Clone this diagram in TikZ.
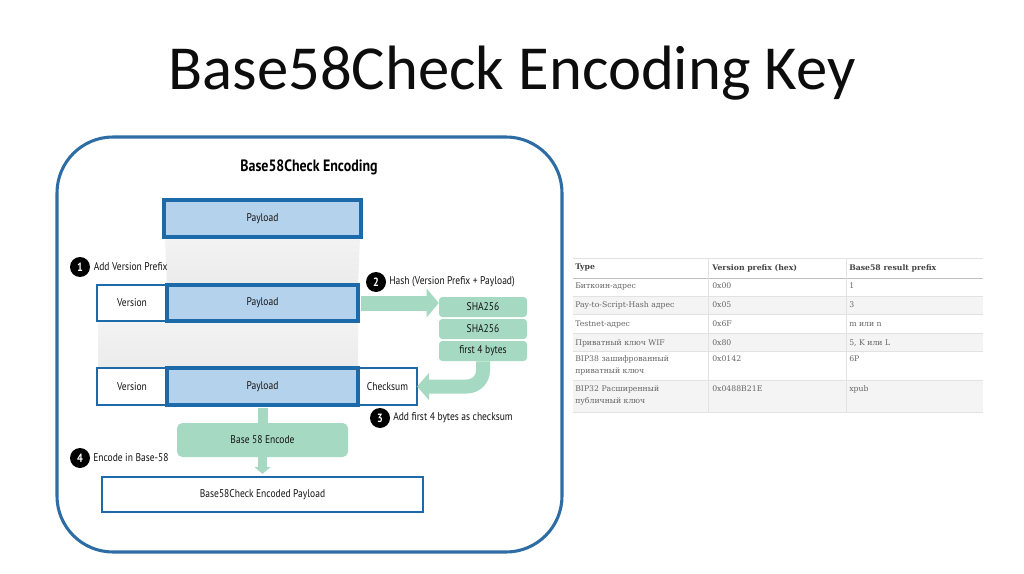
\documentclass[tikz,border=0pt]{standalone}
\usepackage{fontspec}
\setmainfont{Carlito}
\newfontfamily\cond[FakeStretch=0.85]{PT Sans}
\newfontfamily\tabfont{DejaVu Serif}
\usetikzlibrary{arrows.meta}
\definecolor{frameblue}{HTML}{2E6DA4}
\definecolor{dblue}{HTML}{1D6AAB}
\definecolor{lblue}{HTML}{B5D2EC}
\definecolor{mgreen}{HTML}{A6D9C2}
\definecolor{gshade}{HTML}{EBEBEB}
\definecolor{tabtext}{HTML}{666666}
\definecolor{tabhead}{HTML}{444444}
\definecolor{tabline}{HTML}{E2E2E2}
\definecolor{tabfill}{HTML}{F4F4F4}
\tikzset{
  bx/.style 2 args={minimum width=#1*0.75pt, minimum height=#2*0.75pt, inner sep=0pt},
  dfont/.style={font=\cond\fontsize{8.4}{10}\selectfont, text=black!92},
  pay/.style={draw=dblue, line width=2.6pt, fill=lblue, dfont},
  wbox/.style={draw=dblue, line width=2.1pt, fill=white, dfont},
  gbox/.style={fill=mgreen, rounded corners=2.5pt, dfont},
  numc/.style={circle, fill=black, text=white, inner sep=0pt, minimum size=15pt, font=\cond\bfseries\fontsize{9}{10}\selectfont},
  lab/.style={anchor=west, dfont, inner sep=0pt},
  tcell/.style={anchor=west, inner sep=0pt, align=left, text=tabtext, font=\tabfont\fontsize{5.8}{9.6}\selectfont},
  thead/.style={anchor=west, inner sep=0pt, text=tabhead, font=\tabfont\bfseries\fontsize{5.8}{9.6}\selectfont},
}
\begin{document}
\begin{tikzpicture}[x=0.75pt,y=-0.75pt]
\useasboundingbox (0,0) rectangle (1024,574);
\fill[white] (0,0) rectangle (1024,574);

% slide title
\node[text=black!95, inner sep=0pt] (title) at (512,73) {\fontsize{47}{52}\selectfont Base58Check Encoding Key};

% outer frame
\draw[frameblue, line width=2.3pt, rounded corners=42pt] (57,137) rectangle (562,552);

\node[inner sep=0pt, font=\cond\bfseries\fontsize{12.3}{14}\selectfont] (dtitle) at (309,167) {Base58Check Encoding};

% gray transition areas
\shade[top color=gshade!60, bottom color=gshade] (165,237) -- (360,237) -- (358,285) -- (167,285) -- cycle;
\shade[top color=gshade!60, bottom color=gshade] (98,321) -- (358,321) -- (358,368) -- (98,368) -- cycle;

% boxes
\node[pay, bx={197}{37}] (p1) at (262.5,218.5) {Payload};
\node[wbox, bx={70}{36}] (v2) at (132,303) {Version};
\node[pay, bx={191}{36}] (p2) at (262.5,303) {Payload};
\node[wbox, bx={70}{37}] (v3) at (132,386.5) {Version};
\node[wbox, bx={59}{37}] (c3) at (387.5,386.5) {Checksum};
\node[pay, bx={191}{37}] (p3) at (262.5,386.5) {Payload};

\node[gbox, bx={88}{20}] (s1) at (483,307) {SHA256};
\node[gbox, bx={88}{20}] (s2) at (483,329) {SHA256};
\node[gbox, bx={88}{20}] (s3) at (483,351) {first 4 bytes};

\node[gbox, bx={171}{34}, rounded corners=4pt] (enc) at (262.5,440) {Base 58 Encode};
\node[wbox, bx={321}{35}] (fin) at (262.5,494.5) {Base58Check Encoded Payload};

% arrows
\draw[mgreen, line width=11.25pt, -{Triangle[width=21pt,length=9pt]}]
  ([xshift=1.2pt]p2.east) -- (p2.east -| s1.west);
\draw[mgreen, line width=10.5pt, rounded corners=12pt, -{Triangle[width=20pt,length=9pt]}]
  (s3.south) |- ([xshift=-1pt]c3.east);
\draw[mgreen, line width=7.5pt] ([yshift=-1.3pt]p3.south) -- (enc.north);
\draw[mgreen, line width=6.5pt, shorten >=2.5pt, -{Triangle[width=11.5pt,length=5pt]}]
  (enc.south) -- ([yshift=-1.2pt]fin.north);

% step labels
\node[numc] (n1) at (80,267) {1};
\node[lab] (l1) at (93.5,267) {Add Version Prefix};
\node[numc] (n2) at (376,282) {2};
\node[lab] (l2) at (389,282) {Hash (Version Prefix + Payload)};
\node[numc] (n3) at (380,418) {3};
\node[lab] (l3) at (393,418) {Add first 4 bytes as checksum};
\node[numc] (n4) at (80,458) {4};
\node[lab] (l4) at (93,458) {Encode in Base-58};

% table
\fill[tabfill] (573,296) rectangle (983,314);
\fill[tabfill] (573,333) rectangle (983,351);
\fill[tabfill] (573,380) rectangle (983,412);
\draw[tabline, line width=0.5pt] (573,258) -- (983,258);
\draw[black!25, line width=0.7pt] (573,278) -- (983,278);
\foreach \yy in {296,314,333,351,380,412}
  \draw[tabline, line width=0.5pt] (573,\yy) -- (983,\yy);
\foreach \xx in {708,846}
  \draw[tabline, line width=0.5pt] (\xx,258) -- (\xx,412);

\node[thead] (h1) at (575,268) {Type};
\node[thead] (h2) at (712,268) {Version prefix (hex)};
\node[thead] (h3) at (849,268) {Base58 result prefix};

\node[tcell] (a1) at (575,286) {Биткоин-адрес};
\node[tcell] (b1) at (712,286) {0x00};
\node[tcell] (c1) at (849,286) {1};
\node[tcell] (a2) at (575,305) {Pay-to-Script-Hash адрес};
\node[tcell] (b2) at (712,305) {0x05};
\node[tcell] (c2) at (849,305) {3};
\node[tcell] (a3) at (575,324) {Testnet-адрес};
\node[tcell] (b3) at (712,324) {0x6F};
\node[tcell] (c3t) at (849,324) {m или n};
\node[tcell] (a4) at (575,343) {Приватный ключ WIF};
\node[tcell] (b4) at (712,343) {0x80};
\node[tcell] (c4) at (849,343) {5, K или L};
\node[tcell, anchor=north west] (a5) at (575,355) {BIP38 зашифрованный\\приватный ключ};
\node[tcell, anchor=north west] (b5) at (712,355) {0x0142};
\node[tcell, anchor=north west] (c5) at (849,355) {6P};
\node[tcell, anchor=north west] (a6) at (575,385) {BIP32 Расширенный\\публичный ключ};
\node[tcell, anchor=north west] (b6) at (712,385) {0x0488B21E};
\node[tcell, anchor=north west] (c6) at (849,385) {xpub};
\end{tikzpicture}
\end{document}
